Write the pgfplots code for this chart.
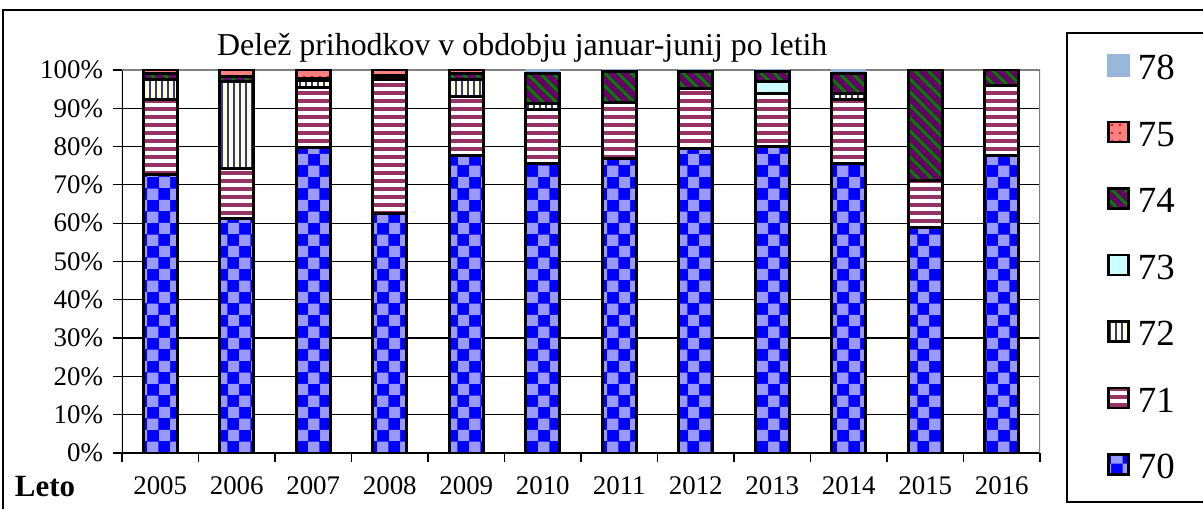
\documentclass[border=0pt]{standalone}
\usepackage{fontspec}
\setmainfont{Liberation Serif}
\usepackage{pgfplots}
\pgfplotsset{compat=1.18}
\usepackage{pgfplotstable}
\usetikzlibrary{patterns,patterns.meta}

\definecolor{c70}{RGB}{0,0,255}
\definecolor{c70l}{RGB}{153,153,255}
\definecolor{c71}{RGB}{153,51,102}
\definecolor{c72}{RGB}{51,51,153}
\definecolor{c72b}{RGB}{255,255,204}
\definecolor{c73}{RGB}{204,255,255}
\definecolor{c74}{RGB}{102,0,102}
\definecolor{c74g}{RGB}{0,128,0}
\definecolor{c75}{RGB}{255,128,128}
\definecolor{c75d}{RGB}{255,0,0}
\definecolor{c78}{RGB}{153,183,219}

% shares in % per year (columns = account groups)
\pgfplotstableread{
x  v70  v71  v72  v73  v74  v75  v78
0  72.8 19.5 5.2  0    1.7  0.8  0
1  61.3 12.9 22.8 0    1.4  1.6  0
2  79.8 15.7 1.7  0    0.6  2.2  0
3  62.5 35.0 0.6  0    0.4  1.5  0
4  77.7 15.4 4.4  0    1.7  0.8  0
5  75.5 14.3 1.5  0    7.9  0    0.8
6  76.8 14.8 0    0    7.9  0    0.5
7  79.4 15.7 0    0    4.4  0    0.5
8  79.9 13.9 0    3.3  2.5  0    0.4
9  75.5 16.9 1.5  0    5.2  0    0.9
10 58.9 12.3 0    0    28.8 0    0
11 77.7 18.3 0    0    4.0  0    0
}\shares

\pgfplotsset{barsty/.style={draw=black, line width=1.5bp}}

\begin{document}
\begin{tikzpicture}
\useasboundingbox (-61bp,-28bp) rectangle (540.5bp,226.5bp);
\draw[line width=0.8bp] (-59.5bp,-30bp) -- (-59.5bp,221.5bp) -- (545bp,221.5bp);
\draw[line width=0.8bp] (560bp,-24.5bp) -- (472.5bp,-24.5bp) -- (472.5bp,210bp) -- (560bp,210bp);
\begin{axis}[
  scale only axis, width=459bp, height=191.5bp,
  at={(0,0)}, anchor=south west,
  ybar stacked, bar width=17bp,
  xmin=-0.5, xmax=11.5, ymin=0, ymax=100,
  axis line style={draw=none},
  xtick={-0.5,0.5,...,11.5}, xticklabels={},
  extra x ticks={0,1,2,3,4,5,6,7,8,9,10,11},
  extra x tick labels={2005,2006,2007,2008,2009,2010,2011,2012,2013,2014,2015,2016},
  extra x tick style={major tick length=0pt, xticklabel style={yshift=-8.5bp}},
  ytick={0,10,...,100},
  yticklabel={\pgfmathprintnumber{\tick}\%},
  /pgf/number format/assume math mode=true,
  ytick pos=left, xtick pos=bottom, tick align=outside,
  major tick length=4.5bp,
  tick style={black, line width=0.6bp},
  ymajorgrids, grid style={black, line width=0.6bp},
  ticklabel style={font=\fontsize{13.5}{16}\selectfont},
  yticklabel style={xshift=-1.5bp},
  title={Delež prihodkov v obdobju januar-junij po letih},
  title style={at={(axis description cs:0.436,1.028)}, anchor=center,
    font=\fontsize{16}{19}\selectfont},
  legend image code/.code={\draw[#1, line width=1.2bp] (0bp,-4.2bp) rectangle (10bp,5.8bp);},
  reverse legend,
  legend style={at={(axis description cs:1.073,1.042)}, anchor=north west,
    draw=none, fill=none, inner sep=0pt,
    font=\fontsize{18.5}{18.5}\selectfont,
    nodes={inner sep=0pt, text height=12.5bp, text depth=0pt},
    row sep=20.6bp,
    /tikz/every odd column/.append style={column sep=4bp}},
  legend cell align=left,
]
\addplot[barsty, fill=c70, postaction={pattern=checkerboard, pattern color=c70l}] table[x=x,y=v70]{\shares};
\addlegendentry{70}
\addplot[barsty, fill=white, postaction={pattern={Lines[angle=0,distance=4bp,line width=1.6bp]}, pattern color=c71}] table[x=x,y=v71]{\shares};
\addlegendentry{71}
\addplot[barsty, fill=c72b, postaction={pattern={Lines[angle=90,distance=3bp,line width=1.2bp]}, pattern color=c72}] table[x=x,y=v72]{\shares};
\addlegendentry{72}
\addplot[barsty, fill=c73] table[x=x,y=v73]{\shares};
\addlegendentry{73}
\addplot[barsty, fill=c74, postaction={pattern={Lines[angle=-45,distance=4.6bp,line width=1.5bp]}, pattern color=c74g}] table[x=x,y=v74]{\shares};
\addlegendentry{74}
\addplot[barsty, fill=c75, postaction={pattern={Dots[distance=4bp,radius=0.7bp]}, pattern color=c75d}] table[x=x,y=v75]{\shares};
\addlegendentry{75}
\addplot[draw=c78, line width=0pt, fill=c78] table[x=x,y=v78]{\shares};
\addlegendentry{78}
\draw[gray, line width=1.2bp] (rel axis cs:0,1) -- (rel axis cs:1,1) -- (rel axis cs:1,0);
\draw[black, line width=0.8bp] (rel axis cs:0,1) -- (rel axis cs:0,0) -- (rel axis cs:1,0);
\end{axis}
\node[font=\bfseries\fontsize{15.5}{18}\selectfont] at (-38.5bp,-17bp) {Leto};
\end{tikzpicture}
\end{document}
